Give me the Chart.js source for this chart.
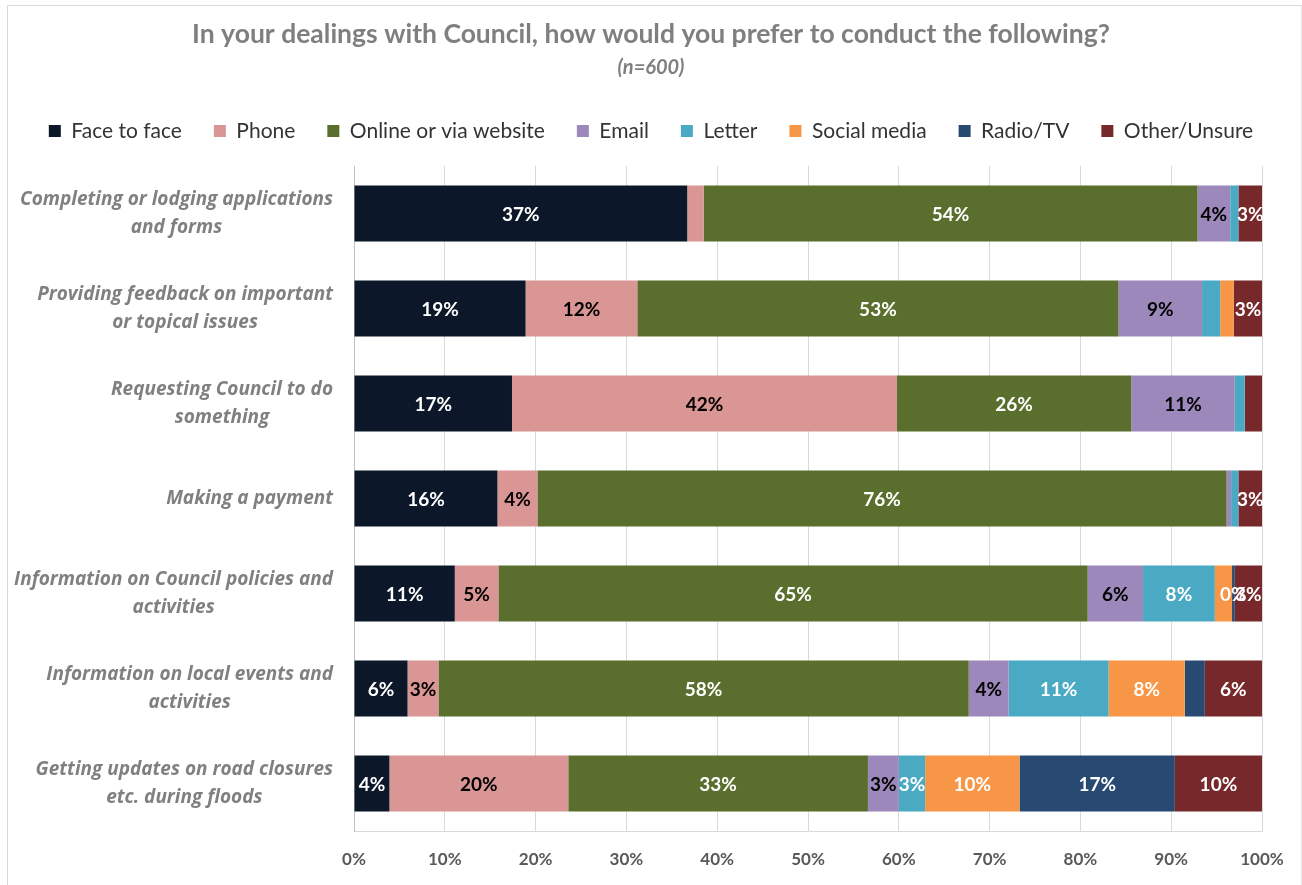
<!DOCTYPE html>
<html>
<head>
<meta charset="utf-8">
<title>Preferred ways of dealing with Council</title>
<script src="https://cdn.jsdelivr.net/npm/chart.js@4.4.1/dist/chart.umd.min.js"></script>
<style>
  html, body { margin: 0; padding: 0; background: #fff; }
  #wrap { position: relative; width: 1302px; height: 885px; }
  #frame { position: absolute; left: 7px; top: 5px; width: 1293px; height: 890px;
           border-top: 1px solid #d9d9d9; border-left: 1px solid #d9d9d9; border-right: 1px solid #e6e6e6; }
  canvas { position: absolute; left: 0; top: 0; }
</style>
</head>
<body>
<div id="wrap">
  <div id="frame"></div>
  <canvas id="myChart" width="1302" height="885"></canvas>
</div>
<script>
(function () {
  "use strict";

  var categories = [
    ["Completing or lodging applications", "and forms"],
    ["Providing feedback on important", "or topical issues"],
    ["Requesting Council to do", "something"],
    ["Making a payment"],
    ["Information on Council policies and", "activities"],
    ["Information on local events and", "activities"],
    ["Getting updates on road closures", "etc. during floods"]
  ];

  // percentages per channel, one value per category above
  var faceToFace = [36.7, 18.9, 17.4, 15.8, 11.1, 5.9, 3.9];
  var phone      = [1.8, 12.3, 42.4, 4.4, 4.8, 3.4, 19.7];
  var online     = [54.4, 53.0, 25.8, 75.9, 64.9, 58.4, 33.0];
  var email      = [3.6, 9.2, 11.4, 0.5, 6.1, 4.4, 3.4];
  var letter     = [0.9, 2.0, 1.1, 0.8, 7.9, 11.0, 2.9];
  var social     = [0, 1.5, 0, 0, 1.9, 8.4, 10.4];
  var radioTv    = [0, 0, 0, 0, 0.3, 2.2, 17.1];
  var other      = [2.6, 3.1, 1.9, 2.6, 3.0, 6.3, 9.6];

  var xTicks = [0, 10, 20, 30, 40, 50, 60, 70, 80, 90, 100];

  // small segments keep their label hidden, except these [dataset, row] pairs
  var labelMin = 2.4;
  var extraLabels = [[6, 4]];

  var series = [
    { label: "Face to face", data: faceToFace, color: "#0c1829", text: "#fff" },
    { label: "Phone", data: phone, color: "#d99694", text: "#000" },
    { label: "Online or via website", data: online, color: "#5a6f2d", text: "#fff" },
    { label: "Email", data: email, color: "#9d88bb", text: "#000" },
    { label: "Letter", data: letter, color: "#4aaac4", text: "#fff" },
    { label: "Social media", data: social, color: "#f79646", text: "#fff" },
    { label: "Radio/TV", data: radioTv, color: "#284a72", text: "#fff" },
    { label: "Other/Unsure", data: other, color: "#76282a", text: "#fff" }
  ];

  var labelFont = "'Open Sans', sans-serif";
  var narrowFont = "Lato, 'Open Sans', sans-serif";

  var legendGap = {
    id: "legendGap",
    beforeInit: function (chart) {
      var fit = chart.legend.fit;
      chart.legend.fit = function () {
        fit.bind(chart.legend)();
        this.height += 14.5;
      };
    }
  };

  var segmentLabels = {
    id: "segmentLabels",
    afterDatasetsDraw: function (chart) {
      var ctx = chart.ctx;
      ctx.save();
      ctx.font = "bold 19px " + narrowFont;
      ctx.textAlign = "center";
      ctx.textBaseline = "middle";
      chart.data.datasets.forEach(function (ds, di) {
        var meta = chart.getDatasetMeta(di);
        meta.data.forEach(function (bar, i) {
          var v = ds.data[i];
          var forced = extraLabels.some(function (p) { return p[0] === di && p[1] === i; });
          if (v < labelMin && !forced) return;
          var p = bar.getProps(["x", "y", "base"], true);
          ctx.fillStyle = series[di].text;
          ctx.fillText(Math.round(v) + "%", (p.x + p.base) / 2, p.y + 1);
        });
      });
      ctx.restore();
    }
  };

  // category names: block right-aligned to the axis, lines centred inside it
  var categoryLabels = {
    id: "categoryLabels",
    afterDraw: function (chart) {
      var ctx = chart.ctx;
      var yScale = chart.scales.y;
      var right = 333;
      var lineH = 28;
      ctx.save();
      ctx.font = "italic bold 19px " + labelFont;
      ctx.fillStyle = "#808080";
      ctx.textAlign = "center";
      ctx.textBaseline = "middle";
      categories.forEach(function (lines, i) {
        var w = 0;
        lines.forEach(function (t) { w = Math.max(w, ctx.measureText(t).width); });
        var cx = right - w / 2;
        var cy = yScale.getPixelForValue(i);
        var y0 = cy - (lines.length - 1) * lineH / 2;
        lines.forEach(function (t, k) { ctx.fillText(t, cx, y0 + k * lineH); });
      });
      ctx.restore();
    }
  };

  var ctx = document.getElementById("myChart");
  var myChart = new Chart(ctx, {
    type: "bar",
    data: {
      labels: categories,
      datasets: series.map(function (s) {
        return {
          label: s.label,
          data: s.data,
          backgroundColor: s.color,
          borderWidth: 0,
          barPercentage: 0.59,
          categoryPercentage: 1
        };
      })
    },
    options: {
      indexAxis: "y",
      responsive: false,
      animation: false,
      events: [],
      layout: { padding: { top: 8, left: 0, right: 0, bottom: 0 } },
      plugins: {
        title: {
          display: true,
          text: "In your dealings with Council, how would you prefer to conduct the following?",
          color: "#7f7f7f",
          font: { family: narrowFont, size: 26.5, weight: "bold" },
          padding: { top: 11, bottom: 0 }
        },
        subtitle: {
          display: true,
          text: "(n=600)",
          color: "#7f7f7f",
          font: { family: narrowFont, size: 20, style: "italic", weight: "bold" },
          padding: { top: 5.2, bottom: 8.5 }
        },
        legend: {
          position: "top",
          labels: {
            boxWidth: 12,
            boxHeight: 12,
            padding: 32,
            color: "#333",
            font: { family: narrowFont, size: 21 }
          }
        },
        tooltip: { enabled: false }
      },
      scales: {
        x: {
          stacked: true,
          min: 0,
          max: 100,
          afterBuildTicks: function (scale) {
            scale.ticks = xTicks.map(function (v) { return { value: v }; });
          },
          afterFit: function (scale) { scale.height = 54; },
          ticks: {
            padding: 18,
            color: "#595959",
            font: { family: narrowFont, size: 17, weight: "bold" },
            callback: function (v) { return v + "%"; }
          },
          grid: { color: "#d9d9d9", drawTicks: false },
          border: { display: true, color: "#d9d9d9" }
        },
        y: {
          stacked: true,
          ticks: { display: false },
          grid: { display: false },
          border: { display: true, color: "#bfbfbf" },
          afterFit: function (scale) { scale.width = 354; }
        },
        // empty strip on the right that keeps the plot clear of the frame
        yRight: {
          position: "right",
          ticks: { display: false },
          grid: { display: false },
          border: { display: false },
          afterFit: function (scale) { scale.width = 40; }
        }
      }
    },
    plugins: [legendGap, segmentLabels, categoryLabels]
  });
})();
</script>
</body>
</html>
